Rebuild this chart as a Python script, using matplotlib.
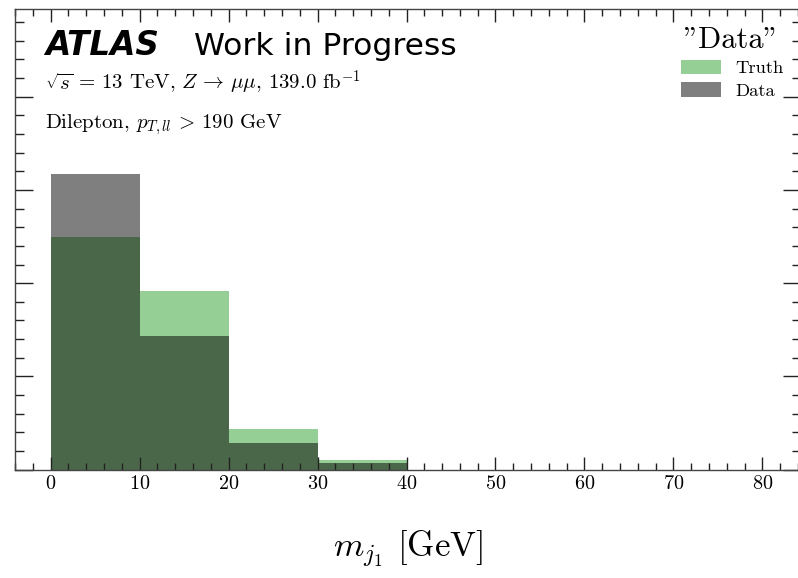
import numpy as np
import matplotlib
matplotlib.use("Agg")
import matplotlib.pyplot as plt
from matplotlib.patches import Patch
from matplotlib.ticker import MultipleLocator, AutoMinorLocator

# Histogram data (normalised, 10 GeV bins)
bin_edges = [0, 10, 20, 30, 40]
truth_vals = [0.0498, 0.0383, 0.0087, 0.0021]
data_vals = [0.0634, 0.0287, 0.0057, 0.0015]

plt.rcParams['font.family'] = 'cmr10'
plt.rcParams['mathtext.fontset'] = 'cm'
plt.rcParams['axes.formatter.use_mathtext'] = True

fig = plt.figure(figsize=(7.98, 5.78), dpi=100)
# right spine sits just outside the canvas, as in the original
ax = fig.add_axes([0.0188, 0.1872, 0.9850, 0.7967])

ax.stairs(truth_vals, bin_edges, fill=True, color='tab:green', alpha=0.5, label='Truth')
ax.stairs(data_vals, bin_edges, fill=True, color='black', alpha=0.5, label='Data')

ax.set_xlim(-4, 84.34)
ax.set_ylim(0, 0.0987)
ax.xaxis.set_major_locator(MultipleLocator(10))
ax.xaxis.set_minor_locator(AutoMinorLocator(5))
ax.yaxis.set_major_locator(MultipleLocator(0.02))
ax.yaxis.set_minor_locator(AutoMinorLocator(5))
ax.tick_params(which='both', direction='in', top=True, right=True, width=1.0, color='#222222')
ax.tick_params(axis='x', which='major', length=9.4, pad=3.5, labelsize=14.5)
ax.tick_params(axis='x', which='minor', length=5)
ax.tick_params(axis='y', which='major', length=13, labelleft=False)
ax.tick_params(axis='y', which='minor', length=6.5)
for sp in ax.spines.values():
    sp.set_color('#444444')
    sp.set_linewidth(1.0)

ax.set_xlabel('$m_{j_1}$ [GeV]', fontsize=25)
ax.xaxis.set_label_coords(0.5, -0.1894)
ax.xaxis.label.set_va('baseline')

# ATLAS label block
ax.text(0.0383, 0.9008, 'ATLAS', transform=ax.transAxes, fontsize=23.5,
        family='DejaVu Sans', weight='bold', style='italic', va='baseline')
ax.text(0.2273, 0.9008, 'Work in Progress', transform=ax.transAxes, fontsize=22.6,
        family='DejaVu Sans', va='baseline')
ax.text(0.0383, 0.8250, r'$\sqrt{s}\,=\,13$ TeV, $Z\,\rightarrow\,\mu\mu$, 139.0 fb$^{-1}$',
        transform=ax.transAxes, fontsize=15, va='baseline')
ax.text(0.0383, 0.7416, r'Dilepton, $p_{T,ll}\,>\,190$ GeV',
        transform=ax.transAxes, fontsize=15, va='baseline')

handles = [Patch(color='tab:green', alpha=0.5, lw=0),
           Patch(color='black', alpha=0.5, lw=0)]
leg = ax.legend(handles, ['Truth', 'Data'], title='"Data"', title_fontsize=21.8,
                fontsize=13.4, loc='upper right', frameon=False,
                bbox_to_anchor=(1.001, 1.003),
                handlelength=2.15, handleheight=0.85, handletextpad=0.75,
                labelspacing=0.3, borderaxespad=0.6)

fig.savefig('out.png', dpi=100)
